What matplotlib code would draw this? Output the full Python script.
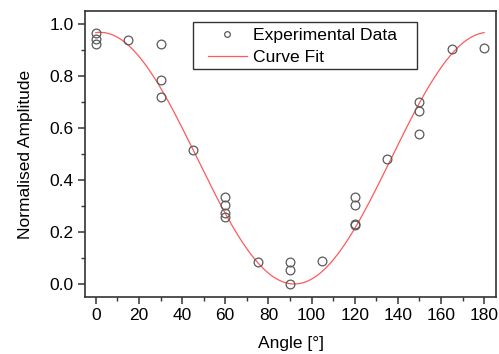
import numpy as np
import matplotlib
matplotlib.use("Agg")
import matplotlib.pyplot as plt
from matplotlib.ticker import MultipleLocator
from matplotlib.patches import Rectangle

plt.rcParams['font.family'] = ['Liberation Sans', 'DejaVu Sans']

# Experimental data
angles = [0, 0, 0, 15, 30, 30, 30, 45, 60, 60, 60, 60, 75, 90, 90, 90, 105,
          120, 120, 120, 120, 135, 150, 150, 150, 165, 180]
amplitudes = [0.967, 0.941, 0.924, 0.940, 0.924, 0.785, 0.719, 0.514, 0.333, 0.305,
              0.274, 0.259, 0.083, 0.085, 0.054, 0.001, 0.087,
              0.336, 0.305, 0.232, 0.228, 0.480, 0.700, 0.664, 0.577, 0.903, 0.908]

# Curve fit parameters (A*cos^2(theta - theta0) + c)
fit_A = 0.968
fit_theta0 = 2.0
fit_c = 0.0
fit_range = (0, 180)

W, H = 499, 354
fig = plt.figure(figsize=(W/100, H/100), dpi=100)
ax_l, ax_r, ax_t, ax_b = 85, 496, 11, 297
ax = fig.add_axes([ax_l/W, 1-ax_b/H, (ax_r-ax_l)/W, (ax_b-ax_t)/H])

def ax_frac(px, py):
    return (px-ax_l)/(ax_r-ax_l), 1-(py-ax_t)/(ax_b-ax_t)

theta = np.linspace(fit_range[0], fit_range[1], 400)
curve = fit_A * np.cos(np.radians(theta - fit_theta0))**2 + fit_c

ax.plot(angles, amplitudes, linestyle='none', marker='o', markersize=6.3,
        markerfacecolor='none', markeredgecolor='#5a5a5a', markeredgewidth=0.9,
        label='Experimental Data', zorder=3)
ax.plot(theta, curve, color='#ff5a5a', linewidth=0.9, label='Curve Fit', zorder=2)

ax.set_xlim(-5, 185.5)
ax.set_ylim(-0.05, 1.05)
ax.xaxis.set_major_locator(MultipleLocator(20))
ax.xaxis.set_minor_locator(MultipleLocator(10))
ax.yaxis.set_major_locator(MultipleLocator(0.2))
ax.yaxis.set_minor_locator(MultipleLocator(0.1))
ax.yaxis.set_major_formatter(plt.FuncFormatter(lambda v, p: f"{v:.1f}"))

for s in ax.spines.values():
    s.set_linewidth(1.2)
    s.set_color('#333333')
ax.tick_params(which='major', direction='out', length=5, width=1.1, color='#333333',
               labelsize=12.5, pad=3)
ax.tick_params(which='minor', direction='out', length=3, width=1.0, color='#333333')

ax.set_xlabel('Angle [°]', fontsize=12.5, labelpad=9)
ax.set_ylabel('Normalised Amplitude', fontsize=12.5, labelpad=12)

# legend frame
fx0, fy0 = ax_frac(193, 69)
fx1, fy1 = ax_frac(417, 22)
ax.add_patch(Rectangle((fx0, fy0), fx1-fx0, fy1-fy0, transform=ax.transAxes,
                       facecolor='white', edgecolor='#333333', linewidth=1.0, zorder=4))

lx, ly = ax_frac(208, 28)
leg = ax.legend(loc='upper left', bbox_to_anchor=(lx, ly),
                fontsize=12.6, frameon=False, borderpad=0, labelspacing=0.35,
                handlelength=2.2, handletextpad=0.35, borderaxespad=0, markerscale=0.65)
leg.set_zorder(5)

fig.savefig('out.png', dpi=100)
